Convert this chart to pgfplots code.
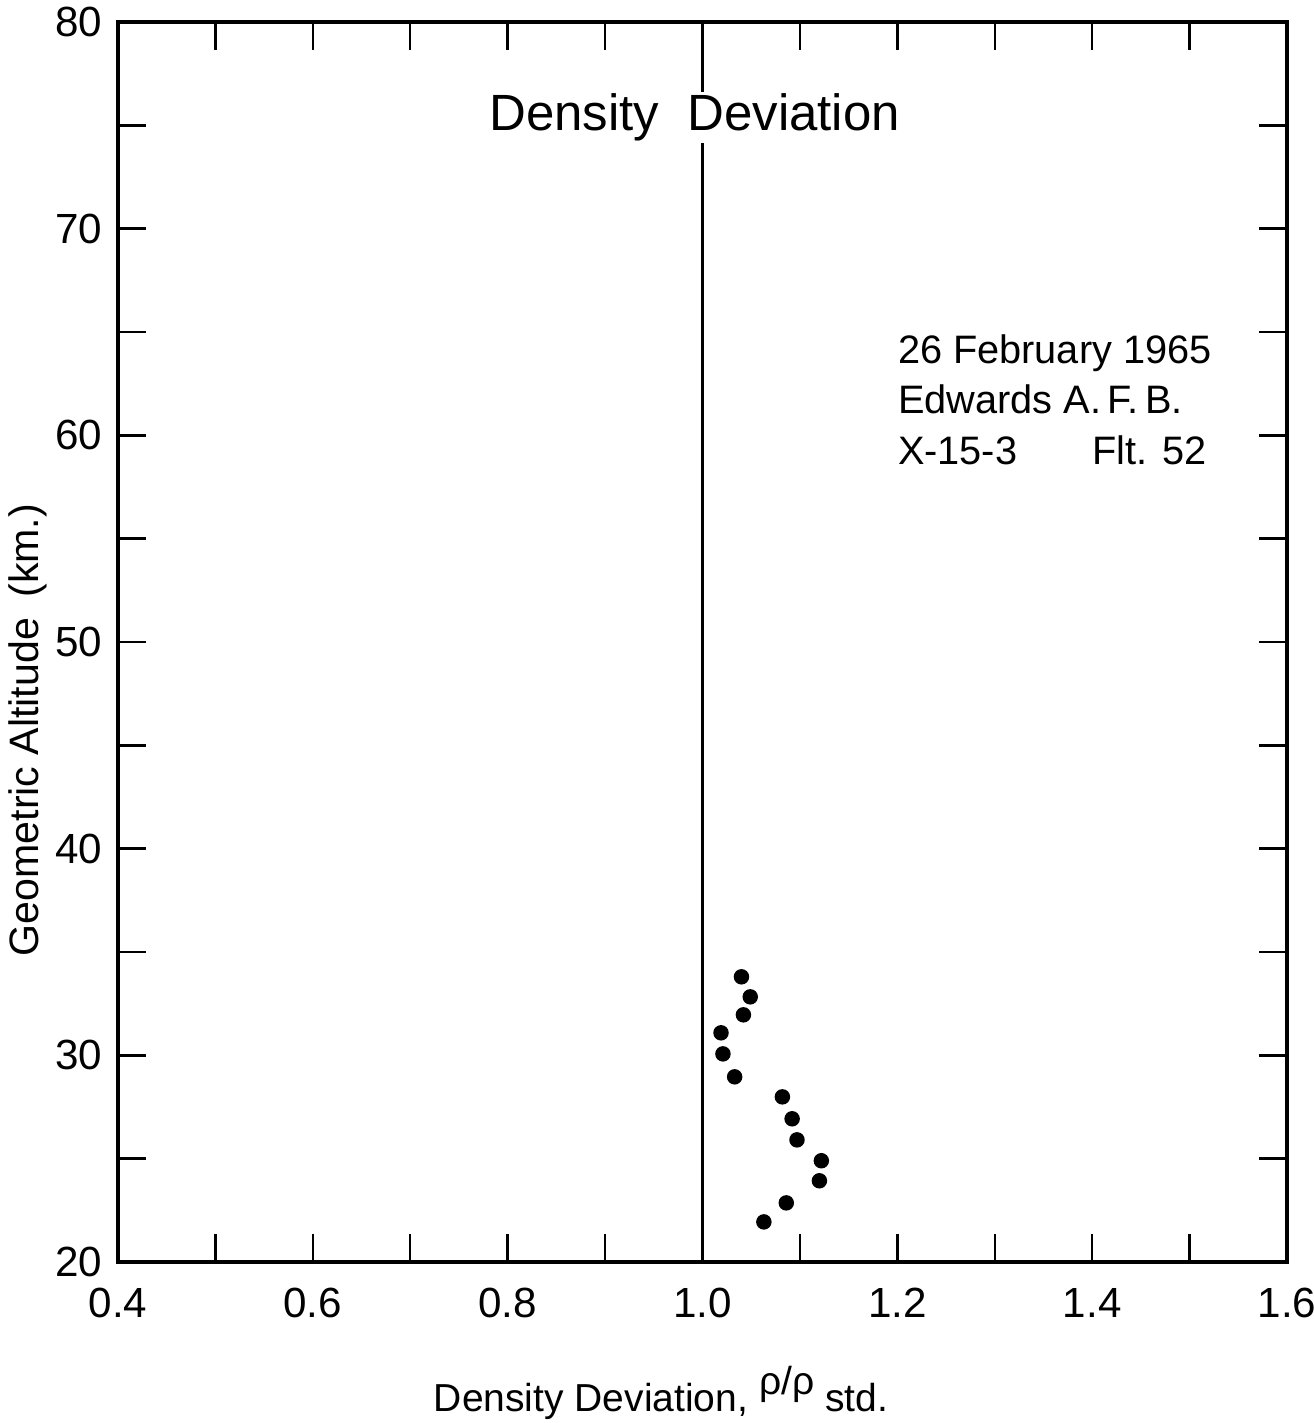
\documentclass[border=0pt]{standalone}
\usepackage{pgfplots}
\pgfplotsset{compat=1.18}
\usepackage{fontspec}
\setmainfont{Liberation Sans}
\begin{document}
\begin{tikzpicture}
\useasboundingbox (-1.18cm,-1.61cm) rectangle (11.96cm,12.62cm);
\begin{axis}[
  scale only axis,
  width=11.69cm, height=12.40cm,
  xmin=0.4, xmax=1.6, ymin=20, ymax=80,
  axis line style={line width=1.2pt},
  xtick={0.4,0.5,0.6,0.7,0.8,0.9,1.0,1.1,1.2,1.3,1.4,1.5,1.6},
  xticklabels={0.4,,0.6,,0.8,,1.0,,1.2,,1.4,,1.6},
  ytick={20,25,30,35,40,45,50,55,60,65,70,75,80},
  yticklabels={20,,30,,40,,50,,60,,70,,80},
  tick align=inside,
  major tick length=2.8mm,
  tick style={line width=0.7pt, black},
  ticklabel style={font=\fontsize{12}{14}\selectfont},
  xticklabel style={yshift=-4pt},
  yticklabel style={xshift=-1pt},
  /pgf/number format/assume math mode=true,
  xlabel={Density Deviation, \raisebox{0.8ex}{ρ/ρ} std.},
  xlabel style={at={(axis description cs:0.4645,-0.1205)}, anchor=base, font=\fontsize{11.1}{13}\selectfont},
  ylabel={Geometric Altitude\enspace(km.)},
  ylabel style={at={(axis description cs:-0.077,0.429)}, anchor=center, font=\fontsize{11.7}{14}\selectfont},
  clip=false,
]
\addplot[black, line width=0.8pt, forget plot] coordinates {(1.0,20) (1.0,80)};
\node[fill=white, inner sep=0.5pt, font=\fontsize{14.5}{17}\selectfont] at (axis cs:0.992,75.4) {Density\ \ Deviation};
\addplot[only marks, mark=*, mark size=2pt, black] coordinates {
(1.040,33.8) (1.049,32.83) (1.042,31.96) (1.019,31.09) (1.021,30.07)
(1.033,28.96) (1.082,27.99) (1.092,26.93) (1.097,25.91) (1.122,24.90)
(1.120,23.93) (1.086,22.86) (1.063,21.94)
};
\node[anchor=north west, align=left, inner sep=0pt, font=\fontsize{11.3}{14.3}\selectfont] at (axis cs:1.2,64.9) {26 February 1965\\Edwards A.\,F.\,B.\\X-15-3\hspace{0.75cm}Flt. 52};
\end{axis}
\end{tikzpicture}
\end{document}
